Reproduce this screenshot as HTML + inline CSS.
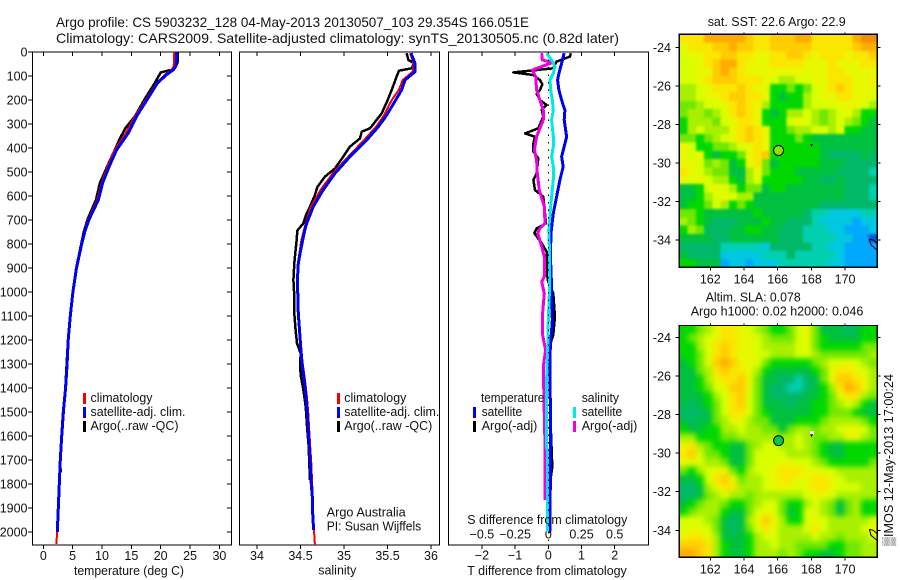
<!DOCTYPE html>
<html>
<head>
<meta charset="utf-8">
<title>Argo profile</title>
<style>
html,body{margin:0;padding:0;background:#fff;}
svg{display:block;position:absolute;left:0;top:0;}
text{font-family:"Liberation Sans",sans-serif;font-size:12.5px;fill:#111;}
.t{font-size:14px;}
</style>
</head>
<body>
<svg id="chart" xmlns="http://www.w3.org/2000/svg" width="900" height="580" viewBox="0 0 900 580">
<defs>
<filter id="blur-sst" filterUnits="userSpaceOnUse" x="640" y="0" width="260" height="300" color-interpolation-filters="sRGB"><feGaussianBlur stdDeviation="1.3"/></filter>
<filter id="blur-sla" filterUnits="userSpaceOnUse" x="640" y="290" width="260" height="290" color-interpolation-filters="sRGB"><feGaussianBlur stdDeviation="2.6"/></filter>
<clipPath id="clip-sst"><rect x="679.3" y="34.3" width="198" height="233"/></clipPath>
<clipPath id="clip-sla"><rect x="679.3" y="325.5" width="198" height="231.8"/></clipPath>
</defs>
<g id="maps"></g>
<g id="plots"></g>
<g>
<text class="t" x="56" y="27" textLength="473" lengthAdjust="spacingAndGlyphs">Argo profile: CS 5903232_128 04-May-2013 20130507_103 29.354S 166.051E</text>
<text class="t" x="56" y="43" textLength="563" lengthAdjust="spacingAndGlyphs">Climatology: CARS2009. Satellite-adjusted climatology: synTS_20130505.nc (0.82d later)</text>
<text x="74" y="575" textLength="110" lengthAdjust="spacingAndGlyphs">temperature (deg C)</text>
<text x="318.3" y="574.5" textLength="38" lengthAdjust="spacingAndGlyphs">salinity</text>
<text x="467.3" y="575" textLength="159.5" lengthAdjust="spacingAndGlyphs">T difference from climatology</text>
<text x="467.3" y="524" textLength="160" lengthAdjust="spacingAndGlyphs">S difference from climatology</text>
<text x="326.7" y="516.7" textLength="79" lengthAdjust="spacingAndGlyphs">Argo Australia</text>
<text x="326.7" y="530.7" textLength="94.5" lengthAdjust="spacingAndGlyphs">PI: Susan Wijffels</text>
<text x="707.7" y="26" textLength="138" lengthAdjust="spacingAndGlyphs">sat. SST: 22.6 Argo: 22.9</text>
<text x="705.7" y="301.7" textLength="95" lengthAdjust="spacingAndGlyphs">Altim. SLA: 0.078</text>
<text x="690.7" y="315.7" textLength="172.6" lengthAdjust="spacingAndGlyphs">Argo h1000: 0.02 h2000: 0.046</text>
<text transform="translate(893,546) rotate(-90)" x="0" y="0" textLength="172" lengthAdjust="spacingAndGlyphs">▒IMOS 12-May-2013 17:00:24</text>
</g>
<g>
<rect x="83" y="393" width="3" height="11" fill="#f00000"/>
<rect x="83" y="407" width="3" height="11" fill="#0000f0"/>
<rect x="83" y="421" width="3" height="11" fill="#000"/>
<text x="90.5" y="402" textLength="62" lengthAdjust="spacingAndGlyphs">climatology</text>
<text x="90.5" y="416" textLength="95" lengthAdjust="spacingAndGlyphs">satellite-adj. clim.</text>
<text x="90.5" y="430" textLength="88" lengthAdjust="spacingAndGlyphs">Argo(..raw -QC)</text>
</g>
<g>
<rect x="337" y="393" width="3" height="11" fill="#f00000"/>
<rect x="337" y="407" width="3" height="11" fill="#0000f0"/>
<rect x="337" y="421" width="3" height="11" fill="#000"/>
<text x="344.3" y="402" textLength="62" lengthAdjust="spacingAndGlyphs">climatology</text>
<text x="344.3" y="416" textLength="95" lengthAdjust="spacingAndGlyphs">satellite-adj. clim.</text>
<text x="344.3" y="430" textLength="88" lengthAdjust="spacingAndGlyphs">Argo(..raw -QC)</text>
</g>
<g>
<text x="481" y="402" textLength="63.3" lengthAdjust="spacingAndGlyphs">temperature</text>
<text x="581.7" y="402" textLength="37.3" lengthAdjust="spacingAndGlyphs">salinity</text>
<rect x="473" y="407" width="3" height="11" fill="#0000f0"/>
<rect x="473" y="421" width="3" height="11" fill="#000"/>
<rect x="573" y="407" width="3" height="11" fill="#00e8e8"/>
<rect x="573" y="421" width="3" height="11" fill="#f000e0"/>
<text x="481.7" y="416" textLength="40.5" lengthAdjust="spacingAndGlyphs">satellite</text>
<text x="481.7" y="430" textLength="55.6" lengthAdjust="spacingAndGlyphs">Argo(-adj)</text>
<text x="581.7" y="416" textLength="40.5" lengthAdjust="spacingAndGlyphs">satellite</text>
<text x="581.7" y="430" textLength="55.6" lengthAdjust="spacingAndGlyphs">Argo(-adj)</text>
</g>
</svg>
<script>
// ---- temperature profiles (deg C vs depth m)
const tempClimDepth = [0,40,60,74,94,129,199,268,337,407,476,546,615,700,750,800,900,1000,1100,1200,1300,1400,1500,1600,1700,1800,1900,2000,2050];
const tempClimValue = [22.27,22.27,22.2,21.87,20.73,19.31,17.44,15.63,14.03,12.2,10.97,9.94,9.2,7.6,6.95,6.45,5.6,5.0,4.55,4.2,4.0,3.75,3.38,3.1,2.87,2.65,2.5,2.33,2.25];
const tempSatDepth = [0,40,60,74,94,129,199,268,337,407,476,546,615,700,750,800,900,1000,1100,1200,1300,1400,1500,1600,1700,1800,1900,2000];
const tempSatValue = [22.7,22.7,22.55,22.15,21.0,19.46,17.66,15.9,14.5,12.5,11.25,10.1,9.4,7.75,7.05,6.55,5.65,5.05,4.6,4.25,4.05,3.8,3.41,3.13,2.9,2.73,2.56,2.39];
const tempArgoDepth = [0,40,60,74,85,94,129,199,268,320,340,360,407,476,546,615,700,750,800,900,1000,1200,1400,1700,1750];
const tempArgoValue = [22.9,22.9,22.6,21.9,20.0,19.8,19.0,17.2,15.6,13.9,13.5,13.05,12.2,10.9,9.65,8.98,7.5,6.9,6.45,5.6,5.0,4.2,3.75,2.9,2.95];
// ---- salinity profiles
const salSatDepth = [5,47,82,117,158,200,269,311,367,436,506,575,644,714,742,783,825,881,950,1089,1228,1297,1367,1436,1506,1575,1644,1714,1783,1853,1922,1992];
const salSatValue = [35.77,35.816,35.816,35.70,35.663,35.594,35.479,35.395,35.26,35.069,34.897,34.76,34.647,34.57,34.55,34.525,34.502,34.475,34.464,34.475,34.502,34.517,34.544,34.563,34.578,34.59,34.601,34.613,34.621,34.636,34.64,34.651];
const salClimDepth = [5,47,82,117,158,200,269,311,367,436,506,575,644,714,783,881,950,1089,1228,1297,1367,1436,1506,1575,1644,1714,1783,1853,1922,1992,2054];
const salClimValue = [35.76,35.8,35.79,35.675,35.63,35.55,35.45,35.37,35.23,35.05,34.87,34.73,34.62,34.56,34.51,34.47,34.46,34.475,34.505,34.525,34.552,34.573,34.59,34.6,34.612,34.624,34.632,34.64,34.645,34.655,34.665];
const salArgoDepth = [5,33,47,68,78,103,158,200,256,283,318,332,360,394,436,485,519,561,603,644,679,714,744,783,825,881,950,1019,1089,1158,1214,1256,1311,1353,1408,1478,1575,1644,1714,1783];
const salArgoValue = [35.72,35.74,35.805,35.778,35.632,35.605,35.548,35.502,35.433,35.375,35.299,35.203,35.184,35.069,34.992,34.897,34.782,34.697,34.659,34.609,34.563,34.532,34.463,34.456,34.444,34.429,34.418,34.429,34.429,34.444,34.46,34.502,34.494,34.506,34.533,34.56,34.578,34.594,34.601,34.609];
// ---- difference from climatology
const dTempSatDepth = [5,47,89,117,158,200,242,283,353,394,436,478,533,603,672,742,769,839,978,1117,1256,1394,1450,1589,1797,1998];
const dTempSatValue = [.48,.40,.32,.28,.32,.40,.50,.48,.55,.48,.40,.45,.35,.25,.15,.09,.08,.06,.1,.12,.05,.05,.06,.06,.06,.05];
const dTempArgoDepth = [5,19,40,68,85,96,117,135,158,175,200,221,240,269,318,339,353,381,415,443,506,533,575,603,672,714,735,755,797,832,950,1006,1103,1179,1228,1394,1589,1728,1797,2005];
const dTempArgoValue = [.68,.65,.25,.15,-1.05,-.45,-.25,-.18,-.25,-.35,-.25,-.05,-.2,-.15,-.30,-.70,-.40,-.45,-.45,-.3,-.35,-.45,-.40,-.15,-.10,-.07,-.35,-.42,-.2,-.05,-.02,.15,.2,.15,.03,.05,.08,.12,.05,.03];
const dSalSatDepth = [5,33,61,89,117,158,200,242,283,353,394,436,478,533,603,672,742,769,839,978,1047,1117,1256,1394,1450,1644,1660,1998];
const dSalSatValue = [-.013,.025,.05,.038,.013,.018,.03,.038,.025,.038,.038,.025,.038,.038,.025,.013,.003,.005,.01,.01,.005,0,-.005,-.015,-.015,-.015,-.007,-.007];
const dSalArgoDepth = [5,33,44,75,103,158,200,242,283,318,353,408,450,506,575,644,714,735,755,811,853,936,957,1006,1089,1172,1242,1297,1394,1658,1867];
const dSalArgoValue = [-.05,-.045,.03,-.12,-.095,-.088,-.063,-.038,-.038,-.063,-.088,-.105,-.088,-.083,-.068,-.03,-.025,-.063,-.08,-.05,-.03,-.03,-.05,-.03,-.043,-.045,-.02,-.035,-.035,-.024,-.024];
// ---- tick labels
const depthTicks = [0,100,200,300,400,500,600,700,800,900,1000,1100,1200,1300,1400,1500,1600,1700,1800,1900,2000];
const tempTicks = [0,5,10,15,20,25,30];
const salTicks = [34,34.5,35,35.5,36];
const dTempTicks = [-2,-1,0,1,2];
const dSalTicks = [-0.5,-0.25,0,0.25,0.5];
const lonTicks = [162,164,166,168,170];
const latTicks = [-24,-26,-28,-30,-32,-34];
// ---- map cell levels (0=blue ... E=dark orange), north row first
const sstRows = [
"BBBDDDDDCBBCCCDDBBBBBDEE",
"ABBBCCDCCBBCCCCCBBBBBCDD",
"9AABBCCBBAABBCCBABBBABBC",
"99ABCDDBAAABBBBAAABAAABB",
"99AACDCBAAAAAAAAAABBAAAA",
"99ABCCCBBBA98899AABBBAAA",
"889ABBBCBAA667679ABCBAAA",
"889AABCCBBA656689AABBAA9",
"77899ABCBA866668999AAA98",
"788789BCBA6568898789A866",
"688879ABBA6669A987898765",
"689888ABCBA6678899896655",
"776789ABCBA6667655555555",
"A9667789ABA6666665555555",
"A9A65667ABC6666665444454",
"AA978756AB75666665554444",
"BA9877558A76665555544443",
"A9A988658966666554454444",
"5569A9867756655555554443",
"55689A988555555555554443",
"566798676555555554444444",
"776555555655555433222233",
"876544455565544432222122",
"687444556655444333221112",
"555544555555444333322110",
"444443333324444433221111",
"544442222233343333321111",
"665551221222333333221111"
];
const slaRows = [
"6678ABBA9876679A75554566",
"6789ABBAA987779A76555566",
"6689BCBAA988889A76666677",
"6679BCBAA998889987777778",
"5679CDCAA97666667899A987",
"5578BCBBA865555567ABBA98",
"5568ABBCA755443457ACCBA8",
"55679ACCA7544334568BDCA8",
"555689BC97544445567ABB87",
"545679BC9755545566789865",
"444579BB9765555566777655",
"545578AA8775556667888876",
"65566889887757887889AA97",
"88666778888888987788AA87",
"AB8766557899889876556666",
"BC9776557999988876556666",
"AA9887557999AA9987666667",
"7689AA76899ABBBAA9988888",
"5569BCA7889ABBAABBA98888",
"4458ABB8889AAA9ABBA99988",
"4457898878888889AA988888",
"567887667899766898757866",
"6788865579A97569A8757866",
"999875458ACA8669A9888889",
"9A99754579BA8889B988889A",
"ABBA85556899888898878889",
"CCCB86556889887777667788",
"DDCB86556888787665567788"
];
const levelColors = ["#0058e0","#00a8ff","#00c8e0","#00d0b0","#00b868","#00c040","#00d800","#70e800","#a8f000","#d8ff00","#e8f800","#fbe600","#ffcc00","#ffac00","#f09000"];
// ---- markers on maps
const floatLon = 166.051;
const floatLat = -29.354;
const coastLonA = [171.44,171.54,171.89];
const coastLatA = [-33.95,-34.26,-34.52];
const coastLonB = [171.44,171.66,171.89];
const coastLatB = [-33.95,-34.0,-34.16];

const NS = "http://www.w3.org/2000/svg";
const plots = document.getElementById("plots");
const maps = document.getElementById("maps");

function make(tag, parent, attrs, content){
  const n = document.createElementNS(NS, tag);
  for (const k in attrs) n.setAttribute(k, attrs[k]);
  if (content !== undefined) n.textContent = content;
  parent.appendChild(n);
  return n;
}
function label(parent, x, y, str, anchor, name){
  const n = make("text", parent, {x:x, y:y, "text-anchor":anchor}, str);
  
  
}
function tickLine(parent, x1, y1, x2, y2, name){
  const n = make("line", parent, {x1:x1, y1:y1, x2:x2, y2:y2, stroke:"#000", "stroke-width":1, "shape-rendering":"crispEdges"});
  
  
}
function frame(parent, x, y, w, h, name){
  const n = make("rect", parent, {x:x, y:y, width:w, height:h, fill:"none", stroke:"#000", "stroke-width":1.2, "shape-rendering":"crispEdges"});
  
  
}

// ---- axis functions
const TOP = 52, BOTTOM = 545;
const yDepth = d => 52 + d * 0.24;
const xTemp = t => 43.3 + 5.87 * t;
const xSal = s => 344 + 87 * (s - 35);
const xDT = v => 548.3 + 33.2 * v;
const xDS = v => 548.3 + 132.8 * v;
const xLon = lon => 777.7 + (lon - 166) * 16.85;
const ySst = lat => 47.3 + (-24 - lat) * 19.27;
const ySla = lat => 337.3 + (-24 - lat) * 19.3;

function series(parent, xs, ds, xf, color, width, name){
  const pts = xs.map((v, i) => xf(v).toFixed(1) + "," + yDepth(ds[i]).toFixed(1)).join(" ");
  const n = make("polyline", parent, {points:pts, fill:"none", stroke:color, "stroke-width":width, "stroke-linejoin":"round", "shape-rendering":"crispEdges"});
  
  
}

// ---- temperature panel
const g1 = make("g", plots, {});


frame(g1, 32.5, TOP, 199, BOTTOM - TOP, 'temperature-frame');
depthTicks.forEach(d => {
  tickLine(g1, 28, yDepth(d), 32.5, yDepth(d), 'depth-tick');
  tickLine(g1, 227, yDepth(d), 231.5, yDepth(d), 'depth-tick-right');
  label(g1, 27.5, yDepth(d) + 4.5, String(d), "end", 'depth-tick-label');
});
tempTicks.forEach(t => {
  tickLine(g1, xTemp(t), TOP, xTemp(t), TOP + 4, 'temperature-tick-top');
  tickLine(g1, xTemp(t), BOTTOM, xTemp(t), BOTTOM + 4, 'temperature-tick');
  label(g1, xTemp(t), 560, String(t), "middle", 'temperature-tick-label');
});
series(g1, tempArgoValue, tempArgoDepth, xTemp, "#000000", 2.5, 'temperature-argo-line');
series(g1, tempClimValue, tempClimDepth, xTemp, "#f00000", 2, 'temperature-climatology-line');
series(g1, tempSatValue, tempSatDepth, xTemp, "#0000f0", 3, 'temperature-satellite-line');

// ---- salinity panel
const g2 = make("g", plots, {});


frame(g2, 239.5, TOP, 200, BOTTOM - TOP, 'salinity-frame');
salTicks.forEach(s => {
  tickLine(g2, xSal(s), TOP, xSal(s), TOP + 4, 'salinity-tick-top');
  tickLine(g2, xSal(s), BOTTOM, xSal(s), BOTTOM + 4, 'salinity-tick');
  label(g2, xSal(s), 560, String(s), "middle", 'salinity-tick-label');
});
series(g2, salArgoValue, salArgoDepth, xSal, "#000000", 2.5, 'salinity-argo-line');
series(g2, salClimValue, salClimDepth, xSal, "#f00000", 2, 'salinity-climatology-line');
series(g2, salSatValue, salSatDepth, xSal, "#0000f0", 3, 'salinity-satellite-line');

// ---- difference panel
const g3 = make("g", plots, {});


frame(g3, 448.5, TOP, 200, BOTTOM - TOP, 'difference-frame');
dTempTicks.forEach(v => {
  tickLine(g3, xDT(v), TOP, xDT(v), TOP + 4, 'difference-tick-top');
  tickLine(g3, xDT(v), BOTTOM, xDT(v), BOTTOM + 4, 'difference-tick');
  label(g3, xDT(v), 559.5, String(v).replace("-", "\u2212"), "middle", 'difference-tick-label');
});
dSalTicks.forEach(v => {
  label(g3, xDS(v), 538.5, String(v).replace("-", "\u2212"), "middle", 'salinity-difference-tick-label');
});
series(g3, dTempArgoValue, dTempArgoDepth, xDT, "#000000", 2.5, 'difference-temperature-argo-line');
series(g3, dTempSatValue, dTempSatDepth, xDT, "#0000f0", 3, 'difference-temperature-satellite-line');
series(g3, dSalArgoValue, dSalArgoDepth, xDS, "#f000e0", 3, 'difference-salinity-argo-line');
series(g3, dSalSatValue, dSalSatDepth, xDS, "#00e8e8", 3, 'difference-salinity-satellite-line');
const zeroLine = make("line", g3, {x1:xDT(0), y1:yDepth(0), x2:xDT(0), y2:yDepth(2040), stroke:"#000", "stroke-width":1, "stroke-dasharray":"1.5 6", "shape-rendering":"crispEdges"});



// ---- maps
function drawMap(rows, yLat, top, bottom, name, markerFill, white, filterId, clipId){
  const g = make("g", maps, {});
  
  
  const left = 679.3, right = 877.3;
  const lonW = 160.16, lonE = 171.91;
  const latN = -24 + (yLat(-24) - top) / 19.27, latS = -24 - (bottom - yLat(-24)) / 19.27;
  const dLon = (lonE - lonW) / 24, dLat = (latN - latS) / rows.length;
  const clipped = make("g", g, {"clip-path":"url(#" + clipId + ")"});
  
  
  const field = make("g", clipped, {filter:"url(#" + filterId + ")"});
  
  
  rows.forEach((row, r) => {
    for (let c = 0; c < 24; c++) {
      const level = parseInt(row[c], 16);
      let x0 = xLon(lonW + c * dLon), x1 = xLon(lonW + (c + 1) * dLon);
      let y0 = yLat(latN - r * dLat), y1 = yLat(latN - (r + 1) * dLat);
      if (c === 0) x0 -= 15;
      if (c === 23) x1 += 15;
      if (r === 0) y0 -= 15;
      if (r === rows.length - 1) y1 += 15;
      const cell = make("rect", field, {x:x0.toFixed(2), y:y0.toFixed(2), width:(x1 - x0 + .5).toFixed(2), height:(y1 - y0 + .5).toFixed(2), fill:levelColors[level], "shape-rendering":"crispEdges"});
      
      
    }
  });
  [[coastLonA, coastLatA], [coastLonB, coastLatB]].forEach(pair => {
    const pts = pair[0].map((lon, i) => xLon(lon).toFixed(1) + "," + yLat(pair[1][i]).toFixed(1)).join(" ");
    const coast = make("polyline", g, {points:pts, fill:"none", stroke:"#000", "stroke-width":1});
    
    
  });
  if (white) {
    const w = make("rect", g, {x:xLon(168) - 1.5, y:yLat(-29) - 3, width:4, height:4, fill:"#fff", "shape-rendering":"crispEdges"});
    
    
  }
  const isle = make("polygon", g, {points:[(xLon(167.92)).toFixed(1)+","+(yLat(-29.02)).toFixed(1),(xLon(168.1)).toFixed(1)+","+(yLat(-29.02)).toFixed(1),(xLon(168)).toFixed(1)+","+(yLat(-29.17)).toFixed(1)].join(" "), fill:"#000"});
  
  
  const mark = make("circle", g, {cx:xLon(floatLon), cy:yLat(floatLat), r:5, fill:markerFill, stroke:"#000", "stroke-width":1});
  
  
  frame(g, left, top, right - left, bottom - top, name + '-frame');
  lonTicks.forEach(lon => {
    tickLine(g, xLon(lon), top - 2, xLon(lon), top, 'longitude-tick-top');
    tickLine(g, xLon(lon), bottom, xLon(lon), bottom + 3, 'longitude-tick');
    label(g, xLon(lon), bottom + 16, String(lon), "middle", 'longitude-tick-label');
  });
  latTicks.forEach(lat => {
    tickLine(g, left - 4, yLat(lat), left, yLat(lat), 'latitude-tick');
    tickLine(g, right, yLat(lat), right + 3, yLat(lat), 'latitude-tick-right');
    label(g, 671, yLat(lat) + 4.5, String(lat), "end", 'latitude-tick-label');
  });
}
drawMap(sstRows, ySst, 34.3, 267.3, 'sst-map', "#90e000", false, 'blur-sst', 'clip-sst');
drawMap(slaRows, ySla, 325.5, 557.3, 'sla-map', "#00c840", true, 'blur-sla', 'clip-sla');
</script>
</body>
</html>
